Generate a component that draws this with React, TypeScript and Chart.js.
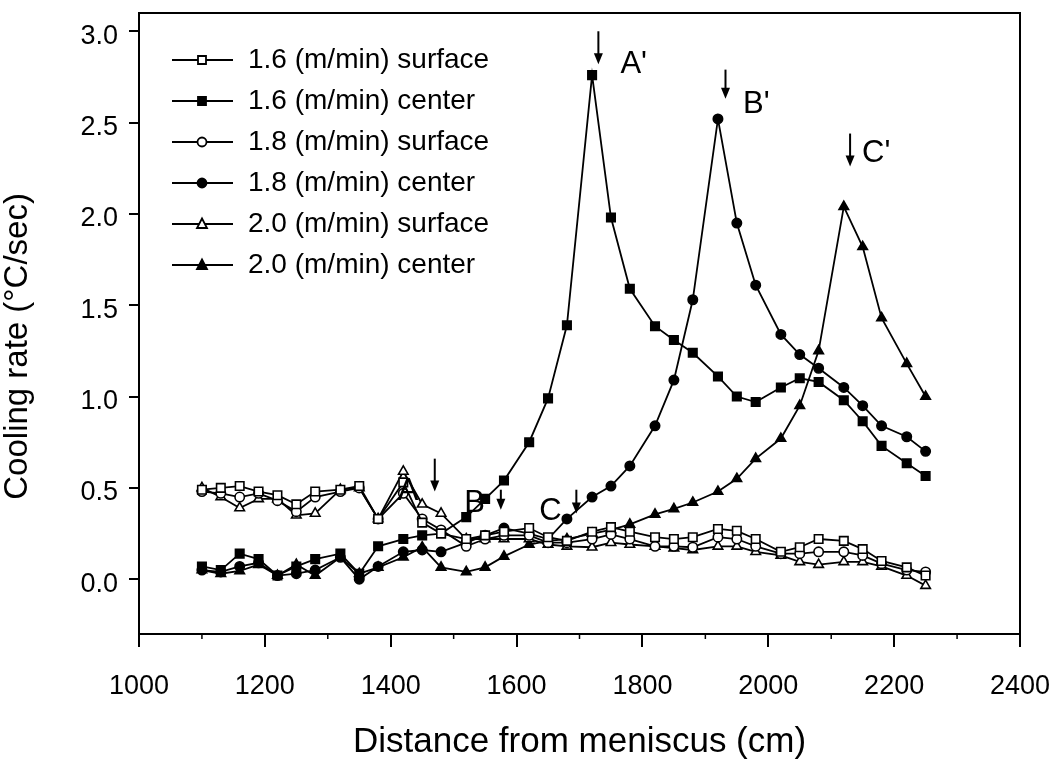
import React, { useEffect, useRef } from 'react';
import { Chart, registerables } from 'chart.js';

Chart.register(...registerables);

// Distance from meniscus (cm)
const distances = [1100, 1130, 1160, 1190, 1220, 1250, 1280, 1320, 1350, 1380, 1420, 1450, 1480, 1520, 1550, 1580, 1620, 1650, 1680, 1720, 1750, 1780, 1820, 1850, 1880, 1920, 1950, 1980, 2020, 2050, 2080, 2120, 2150, 2180, 2220, 2250];

// Cooling rate (°C/sec)
const surface16 = [0.49, 0.50, 0.51, 0.48, 0.46, 0.41, 0.48, 0.49, 0.51, 0.33, 0.53, 0.31, 0.25, 0.22, 0.24, 0.26, 0.28, 0.23, 0.21, 0.26, 0.285, 0.26, 0.23, 0.22, 0.23, 0.275, 0.265, 0.22, 0.15, 0.175, 0.22, 0.21, 0.165, 0.10, 0.065, 0.02];
const center16 = [0.07, 0.05, 0.14, 0.11, 0.02, 0.07, 0.11, 0.14, 0.03, 0.18, 0.22, 0.24, 0.25, 0.34, 0.44, 0.54, 0.75, 0.99, 1.39, 2.76, 1.98, 1.59, 1.385, 1.31, 1.24, 1.11, 1.00, 0.97, 1.05, 1.10, 1.08, 0.98, 0.865, 0.73, 0.635, 0.565];
const surface18 = [0.48, 0.47, 0.45, 0.47, 0.43, 0.37, 0.45, 0.48, 0.50, 0.33, 0.47, 0.33, 0.27, 0.18, 0.22, 0.24, 0.24, 0.20, 0.20, 0.22, 0.245, 0.22, 0.18, 0.18, 0.175, 0.23, 0.22, 0.18, 0.14, 0.14, 0.15, 0.15, 0.13, 0.085, 0.05, 0.04];
const center18 = [0.05, 0.04, 0.07, 0.09, 0.02, 0.03, 0.05, 0.12, 0.00, 0.07, 0.15, 0.16, 0.15, 0.20, 0.24, 0.28, 0.25, 0.22, 0.33, 0.45, 0.51, 0.62, 0.84, 1.09, 1.53, 2.52, 1.95, 1.61, 1.34, 1.23, 1.155, 1.05, 0.95, 0.84, 0.78, 0.70];
const surface20 = [0.50, 0.45, 0.39, 0.44, 0.44, 0.35, 0.36, 0.49, 0.50, 0.33, 0.59, 0.41, 0.36, 0.22, 0.22, 0.22, 0.22, 0.19, 0.18, 0.175, 0.20, 0.19, 0.18, 0.17, 0.16, 0.18, 0.18, 0.15, 0.13, 0.095, 0.08, 0.095, 0.095, 0.07, 0.02, -0.035];
const center20 = [0.05, 0.03, 0.045, 0.08, 0.02, 0.08, 0.02, 0.12, 0.03, 0.065, 0.12, 0.175, 0.065, 0.04, 0.065, 0.125, 0.19, 0.21, 0.22, 0.25, 0.27, 0.30, 0.355, 0.385, 0.42, 0.48, 0.55, 0.66, 0.77, 0.95, 1.25, 2.04, 1.82, 1.43, 1.18, 1.00];

const seriesLabels = ['1.6 (m/min) surface', '1.6 (m/min) center', '1.8 (m/min) surface', '1.8 (m/min) center', '2.0 (m/min) surface', '2.0 (m/min) center'];
const seriesValues = [surface16, center16, surface18, center18, surface20, center20];
const seriesMarkers = ['rect', 'rect', 'circle', 'circle', 'triangle', 'triangle'];
const seriesFilled = [false, true, false, true, false, true];

const yTickValues = [0, 0.5, 1.0, 1.5, 2.0, 2.5, 3.0];
const xMinorTicks = [1100, 1300, 1500, 1700, 1900, 2100, 2300];

// Annotations (data coordinates)
const annoText = ["A'", "B'", "C'", 'A', 'B', 'C'];
const annoTextX = [1765, 1960, 2149, 1411, 1517, 1636];
const annoTextY = [2.82, 2.60, 2.33, 0.48, 0.415, 0.37];
const arrowX = [1730, 1932, 2130, 1470, 1575, 1695];
const arrowTop = [3.0, 2.79, 2.44, 0.66, 0.49, 0.49];
const arrowBottom = [2.82, 2.63, 2.26, 0.48, 0.38, 0.36];

const FONT = "'Liberation Sans', Arial, Helvetica, sans-serif";

function markerRadius(style: string) {
  if (style === 'rect') return 6;
  if (style === 'triangle') return 5.5;
  return 4.7;
}

function makeLegendIcon(style: string, filled: boolean): HTMLCanvasElement {
  const c = document.createElement('canvas');
  c.width = 80;
  c.height = 20;
  const g = c.getContext('2d')!;
  g.strokeStyle = '#000';
  g.lineWidth = 1.8;
  g.beginPath();
  g.moveTo(19, 10);
  g.lineTo(80, 10);
  g.stroke();
  g.fillStyle = filled ? '#000' : '#fff';
  g.beginPath();
  const cx = 49, cy = 10;
  if (style === 'rect') {
    g.rect(cx - 4, cy - 4, 8, 8);
  } else if (style === 'circle') {
    g.arc(cx, cy, 4.5, 0, Math.PI * 2);
  } else {
    g.moveTo(cx, cy - 5.5);
    g.lineTo(cx + 5, cy + 4);
    g.lineTo(cx - 5, cy + 4);
    g.closePath();
  }
  g.fill();
  g.stroke();
  return c;
}

const decorPlugin = {
  id: 'decor',
  afterDraw(chart: any) {
    const { ctx, chartArea: a, scales } = chart;
    const x = scales.x;
    const y = scales.y;
    ctx.save();
    ctx.strokeStyle = '#000';
    ctx.lineWidth = 2;
    ctx.beginPath();
    ctx.moveTo(a.left, a.top);
    ctx.lineTo(a.right, a.top);
    ctx.lineTo(a.right, a.bottom);
    ctx.stroke();

    ctx.lineWidth = 1.5;
    for (const v of xMinorTicks) {
      const px = x.getPixelForValue(v);
      ctx.beginPath();
      ctx.moveTo(px, a.bottom);
      ctx.lineTo(px, a.bottom + 5);
      ctx.stroke();
    }

    // arrows
    ctx.fillStyle = '#000';
    for (let i = 0; i < arrowX.length; i++) {
      const px = x.getPixelForValue(arrowX[i]);
      const t = y.getPixelForValue(arrowTop[i]);
      const b = y.getPixelForValue(arrowBottom[i]);
      ctx.lineWidth = 2;
      ctx.beginPath();
      ctx.moveTo(px, t);
      ctx.lineTo(px, b - 8);
      ctx.stroke();
      ctx.beginPath();
      ctx.moveTo(px - 4.5, b - 11);
      ctx.lineTo(px + 4.5, b - 11);
      ctx.lineTo(px, b);
      ctx.closePath();
      ctx.fill();
    }

    // letters
    ctx.font = `31px ${FONT}`;
    ctx.textAlign = 'left';
    ctx.textBaseline = 'middle';
    for (let i = 0; i < annoText.length; i++) {
      ctx.fillText(annoText[i], x.getPixelForValue(annoTextX[i]), y.getPixelForValue(annoTextY[i]));
    }
    ctx.restore();
  },
};

export default function App() {
  const ref = useRef<HTMLCanvasElement | null>(null);

  useEffect(() => {
    if (!ref.current) return;
    const icons = seriesMarkers.map((m, i) => makeLegendIcon(m, seriesFilled[i]));

    const datasets = seriesLabels.map((label, i) => ({
      label,
      data: distances.map((d, j) => ({ x: d, y: seriesValues[i][j] })),
      borderColor: '#000',
      borderWidth: 1.8,
      backgroundColor: seriesFilled[i] ? '#000' : '#fff',
      pointStyle: seriesMarkers[i] as any,
      pointRadius: markerRadius(seriesMarkers[i]),
      pointBorderWidth: 1.6,
      pointBorderColor: '#000',
      pointBackgroundColor: seriesFilled[i] ? '#000' : '#fff',
      tension: 0,
      fill: false,
    }));

    const chart = new Chart(ref.current, {
      type: 'line',
      data: { datasets },
      options: {
        animation: false,
        responsive: true,
        maintainAspectRatio: false,
        layout: { padding: { top: 13, right: 35, left: 0, bottom: 0 } },
        plugins: {
          tooltip: { enabled: false },
          legend: {
            position: 'chartArea' as any,
            align: 'start',
            title: {
              display: true,
              text: ' ',
              font: { size: 10, lineHeight: 1 },
              padding: { top: 23, bottom: 0 },
            },
            labels: {
              usePointStyle: true,
              pointStyleWidth: 82,
              padding: 13,
              color: '#000',
              font: { family: FONT, size: 28, lineHeight: 1 },
              generateLabels: (c: any) => {
                const base = Chart.defaults.plugins.legend.labels.generateLabels(c);
                return base.map((it: any, i: number) => ({ ...it, pointStyle: icons[i] }));
              },
            },
          },
        },
        scales: {
          x: {
            type: 'linear',
            min: 1000,
            max: 2400,
            afterFit: (s: any) => {
              s.height = 132;
              s.paddingLeft = 0;
              s.paddingRight = 0;
            },
            ticks: {
              stepSize: 200,
              color: '#000',
              padding: 23,
              font: { family: FONT, size: 27 },
              maxRotation: 0,
              autoSkip: false,
              callback: (v: any) => String(v),
            },
            grid: {
              display: true,
              drawOnChartArea: false,
              drawTicks: true,
              tickLength: 13,
              color: '#000',
              lineWidth: 2,
            },
            border: { display: true, color: '#000', width: 2 },
            title: {
              display: true,
              text: 'Distance from meniscus (cm)',
              color: '#000',
              font: { family: FONT, size: 35, lineHeight: 1 },
              padding: { top: 0, bottom: 6 },
            },
          },
          y: {
            type: 'linear',
            min: -0.3,
            max: 3.1,
            afterFit: (s: any) => {
              s.width = 139;
              s.paddingTop = 0;
              s.paddingBottom = 0;
            },
            afterBuildTicks: (s: any) => { s.ticks = yTickValues.map((v) => ({ value: v })); },
            ticks: {
              color: '#000',
              padding: 11,
              labelOffset: 5,
              font: { family: FONT, size: 27 },
              callback: (v: any) => Number(v).toFixed(1),
            },
            grid: {
              display: true,
              drawOnChartArea: false,
              drawTicks: true,
              tickLength: 10,
              color: '#000',
              lineWidth: 2,
            },
            border: { display: true, color: '#000', width: 2 },
            title: {
              display: true,
              text: 'Cooling rate (°C/sec)     ',
              color: '#000',
              font: { family: FONT, size: 33, lineHeight: 1 },
              padding: { top: 1, bottom: 0 },
            },
          },
        },
      },
      plugins: [decorPlugin],
    });

    return () => chart.destroy();
  }, []);

  return (
    <div style={{ position: 'fixed', left: 0, top: 0, width: 1055, height: 766, background: '#fff' }}>
      <canvas ref={ref} />
    </div>
  );
}
